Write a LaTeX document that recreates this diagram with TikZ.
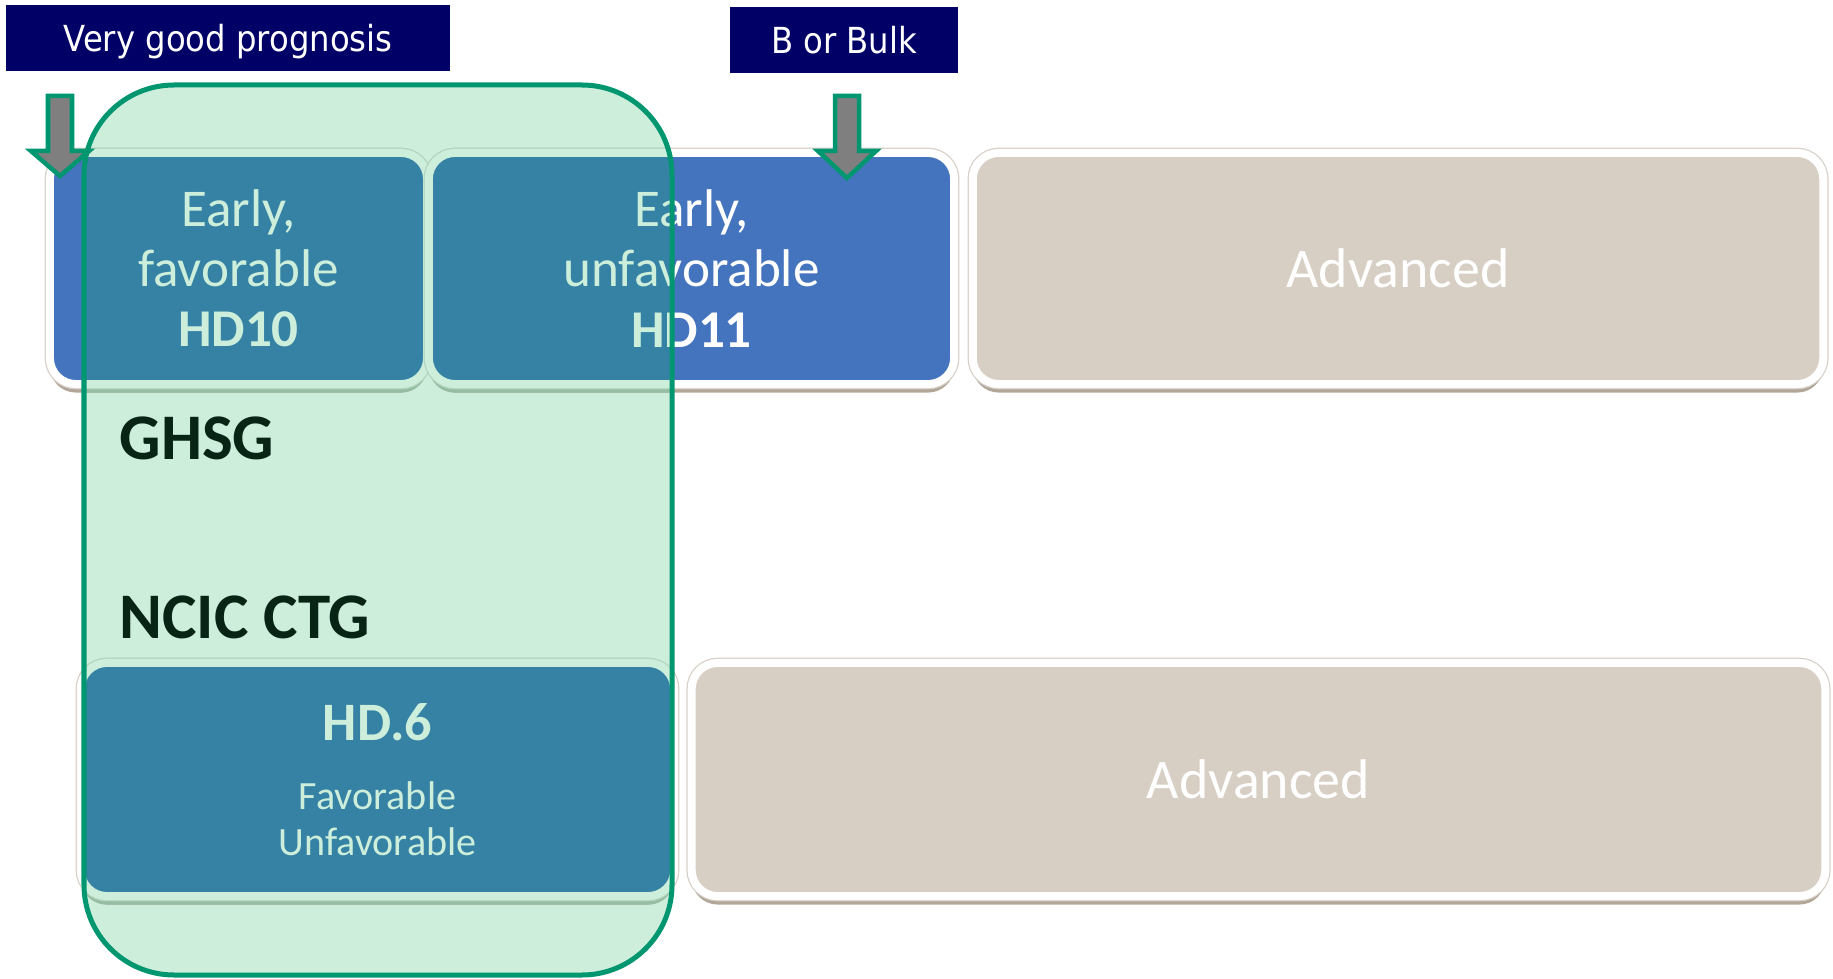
\documentclass[tikz,border=0pt]{standalone}
\usepackage{fontspec}
\setmainfont{Carlito}
\newfontfamily\tahoma{DejaVu Sans}[FakeStretch=0.9]
\usetikzlibrary{shadows}

\definecolor{navy}{RGB}{0,0,102}
\definecolor{stageblue}{RGB}{68,116,190}
\definecolor{stageteal}{RGB}{53,130,165}
\definecolor{stagebeige}{RGB}{216,207,196}
\definecolor{mint}{RGB}{204,238,219}
\definecolor{mintline}{RGB}{0,150,112}
\definecolor{shade}{RGB}{178,166,152}
\definecolor{rim}{RGB}{215,208,200}
\definecolor{mintshade}{RGB}{150,190,163}
\definecolor{mintrim}{RGB}{178,214,190}
\definecolor{darktext}{RGB}{8,36,20}
\definecolor{arrowgray}{RGB}{127,127,127}

\begin{document}
\begin{tikzpicture}[x=0.01cm,y=-0.01cm,
    stage/.style={rounded corners=0.26cm, line width=0.08cm, inner sep=0pt, align=center,
        font=\fontsize{15.1}{17.1}\selectfont},
    plain/.style={stage, draw=white, text=white,
        drop shadow={shadow xshift=0cm, shadow yshift=-0.085cm, fill=shade, opacity=1},
        preaction={draw=rim, line width=0.105cm}},
    tinted/.style={stage, draw=mint, fill=stageteal, text=mint,
        drop shadow={shadow xshift=0cm, shadow yshift=-0.085cm, fill=mintshade, opacity=1},
        preaction={draw=mintrim, line width=0.105cm}},
    tag/.style={fill=navy, text=white, inner sep=0pt, minimum height=0.66cm,
        text height=0.26cm, text depth=0pt, font=\tahoma\fontsize{10.2}{12}\selectfont},
    group/.style={anchor=base west, inner sep=0pt, text=darktext,
        font=\bfseries\fontsize{18.5}{22}\selectfont},
    pointer/.style={fill=arrowgray, draw=mintline, line width=0.045cm, line join=miter}]

    \fill[white] (0,0) rectangle (1833,979);

    % labels on top
    \node[tag, minimum width=4.44cm] (vgp) at (228,38) {Very good prognosis};
    \node[tag, minimum width=2.28cm] (bulk) at (844,40) {B or Bulk};

    % mint band behind the favourable columns
    \fill[mint, rounded corners=0.9cm] (84,85) rectangle (672,975);

    % GHSG row
    \node[plain, fill=stageblue, minimum width=3.77cm, minimum height=2.31cm] (hd10) at (238.5,268.5) {Early,\\favorable\\\textbf{HD10}};
    \node[plain, fill=stageblue, minimum width=5.25cm, minimum height=2.31cm] (hd11) at (691.5,268.5) {Early,\\unfavorable\\\textbf{HD11}};
    \node[plain, fill=stagebeige, minimum width=8.50cm, minimum height=2.31cm, font=\fontsize{15.9}{18}\selectfont] (advtop) at (1398,268.5) {Advanced};

    % NCIC CTG row
    \node[plain, fill=stageblue, minimum width=5.93cm, minimum height=2.33cm, font=\fontsize{11.4}{13.1}\selectfont] (hd6) at (377.5,779.5) {\textbf{\fontsize{15.4}{17}\selectfont HD.6}\\[6.5pt]Favorable\\Unfavorable};
    \node[plain, fill=stagebeige, minimum width=11.33cm, minimum height=2.33cm, font=\fontsize{15.9}{18}\selectfont] (advbot) at (1258.5,779.5) {Advanced};

    % the part seen through the band
    \begin{scope}
        \clip[rounded corners=0.9cm] (84,85) rectangle (672,975);
        \node[tinted, minimum width=3.77cm, minimum height=2.31cm] (hd10m) at (hd10) {Early,\\favorable\\\textbf{HD10}};
        \node[tinted, minimum width=5.25cm, minimum height=2.31cm] (hd11m) at (hd11) {Early,\\unfavorable\\\textbf{HD11}};
        \node[tinted, minimum width=5.93cm, minimum height=2.33cm, font=\fontsize{11.4}{13.1}\selectfont] (hd6m) at (hd6) {\textbf{\fontsize{15.4}{17}\selectfont HD.6}\\[6.5pt]Favorable\\Unfavorable};
    \end{scope}
    \draw[mintline, line width=0.05cm, rounded corners=0.9cm] (84,85) rectangle (672,975);

    \node[group] (ghsg) at (119,459) {GHSG};
    \node[group] (ncic) at (119,638) {NCIC CTG};

    % block arrows
    \foreach \cx/\tip in {60/176, 847/178}
        \draw[pointer] (\cx-12,96) -- (\cx+12,96) -- (\cx+12,151) -- (\cx+29,151)
            -- (\cx,\tip) -- (\cx-29,151) -- (\cx-12,151) -- cycle;

\end{tikzpicture}
\end{document}
